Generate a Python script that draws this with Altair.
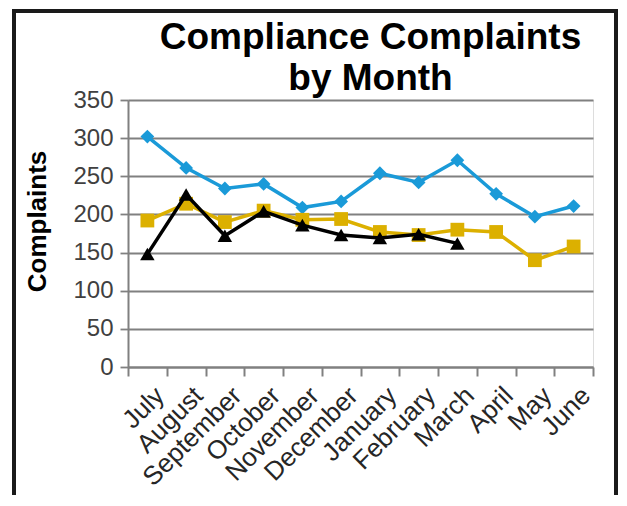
import altair as alt
import pandas as pd

months = ["July", "August", "September", "October", "November", "December",
          "January", "February", "March", "April", "May", "June"]
series_a = [302, 261, 234, 240, 209, 217, 254, 242, 271, 227, 197, 211]   # blue
series_b = [192, 214, 190, 205, 193, 194, 177, 173, 180, 177, 140, 158]   # gold
series_c = [148, 226, 172, 204, 186, 173, 169, 174, 162]                   # black
series_names = ["Series A", "Series B", "Series C"]
colors = ["#1a9ad8", "#dcb000", "#000000"]
shapes = ["diamond", "square", "triangle-up"]
sizes = [190, 190, 210]

def frame(vals, name):
    return pd.DataFrame({"month": months[:len(vals)], "complaints": vals, "series": name})

x_enc = alt.X("month:N", sort=months,
              scale=alt.Scale(type="band", domain=months, paddingInner=0, paddingOuter=0),
              axis=alt.Axis(title=None, labelAngle=-45, tickBand="extent", tickSize=9,
                            tickColor="#808080", tickWidth=2, domainColor="#808080",
                            domainWidth=2, labelFontSize=26, labelColor="#262626",
                            labelFont="Liberation Sans", grid=False, labelPadding=6,
                            labelOffset=3))
y_enc = alt.Y("complaints:Q",
              scale=alt.Scale(domain=[0, 350], nice=False),
              axis=alt.Axis(title="Complaints", values=list(range(0, 351, 50)),
                            grid=True, gridColor="#808080", gridWidth=1.8,
                            tickSize=8, tickColor="#808080", tickWidth=1.8,
                            domainColor="#808080", domainWidth=2,
                            labelFontSize=24, labelColor="#404040",
                            labelFont="Liberation Sans", labelPadding=7,
                            titleFontSize=26, titleFont="Liberation Sans",
                            titleFontWeight="bold", titleColor="#000000",
                            titlePadding=22, titleY=121))

layers = []
data_list = [series_a, series_b, series_c]
for vals, name, c, s, sz in zip(data_list, series_names, colors, shapes, sizes):
    df = frame(vals, name)
    base = alt.Chart(df)
    line = base.mark_line(color=c, strokeWidth=3.5).encode(x=x_enc, y=y_enc)
    pts = base.mark_point(color=c, shape=s, filled=True, opacity=1, size=sz).encode(x=x_enc, y=y_enc)
    layers += [line, pts]

border = alt.Chart(pd.DataFrame({"a": [0]})).mark_rect(
    filled=False, stroke="#1a1a1a", strokeWidth=4, clip=False
).encode(x=alt.value(-114), x2=alt.value(488), y=alt.value(-89), y2=alt.value(450))

chart = alt.layer(*layers, border).properties(
    width=465, height=267,
    title=alt.TitleParams(["Compliance Complaints", "by Month"], fontSize=37,
                          font="Liberation Sans", fontWeight="bold", color="#000000",
                          anchor="middle", frame="group", dx=10, dy=89, offset=0,
                          lineHeight=41),
    autosize=alt.AutoSizeParams(type="none"),
    padding={"left": 120, "top": 92, "right": 26, "bottom": 128},
).configure_view(stroke=None).configure(background="white")

chart.save("out.html", embed_options={"renderer": "svg", "actions": False})
